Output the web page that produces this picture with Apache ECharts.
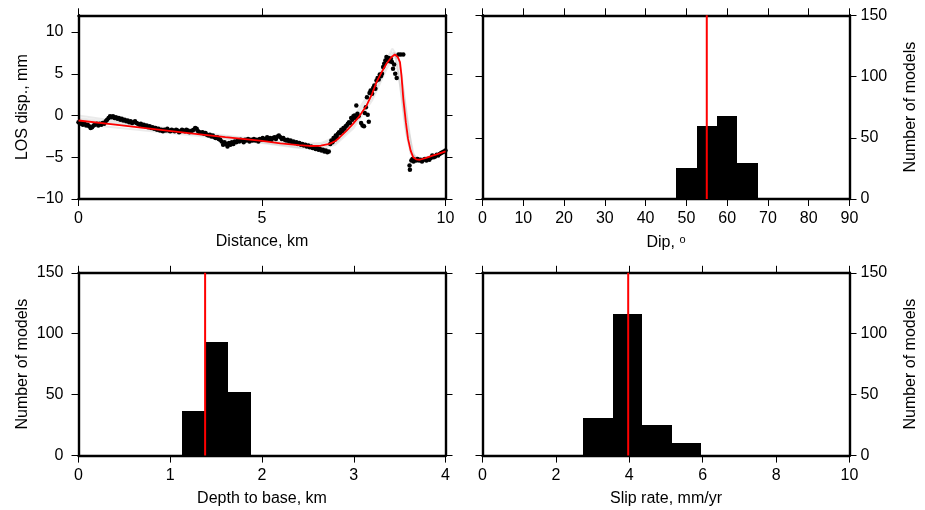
<!DOCTYPE html>
<html>
<head>
<meta charset="utf-8">
<script src="https://cdn.jsdelivr.net/npm/echarts@6/dist/echarts.min.js"></script>
<style>
  html, body { margin: 0; padding: 0; background: #fff; }
  #chart { width: 925px; height: 510px; }
</style>
</head>
<body>
<div id="chart"></div>
<script>
// Observed LOS displacement profile: [distance km, displacement mm]
const losObs = [
  [0.00,-0.8],[0.04,-1.0],[0.08,-0.9],[0.12,-1.1],[0.17,-1.0],[0.21,-1.2],[0.25,-1.1],[0.29,-1.3],[0.33,-1.5],[0.37,-1.4],
  [0.41,-1.2],[0.45,-1.1],[0.50,-1.0],[0.54,-1.2],[0.58,-1.0],[0.62,-1.1],[0.66,-0.9],[0.70,-1.0],[0.74,-0.7],[0.78,-0.5],
  [0.82,-0.3],[0.86,-0.1],[0.90,-0.2],[0.94,-0.1],[0.98,-0.3],[1.02,-0.2],[1.06,-0.4],[1.10,-0.3],[1.14,-0.5],[1.18,-0.4],
  [1.22,-0.6],[1.26,-0.5],[1.30,-0.7],[1.34,-0.6],[1.38,-0.8],[1.42,-0.7],[1.46,-0.9],[1.50,-0.8],[1.54,-0.7],[1.58,-0.9],
  [1.62,-1.0],[1.66,-1.1],[1.70,-1.0],[1.74,-1.2],[1.78,-1.1],[1.82,-1.3],[1.86,-1.2],[1.90,-1.4],[1.94,-1.3],[1.98,-1.5],
  [2.02,-1.4],[2.06,-1.6],[2.10,-1.5],[2.14,-1.7],[2.18,-1.6],[2.22,-1.8],[2.26,-1.7],[2.30,-1.9],[2.34,-1.7],[2.38,-1.8],
  [2.42,-1.6],[2.46,-1.8],[2.50,-1.9],[2.54,-1.7],[2.58,-1.8],[2.62,-1.9],[2.66,-1.7],[2.70,-1.8],[2.74,-2.0],[2.78,-1.9],
  [2.82,-1.7],[2.86,-1.8],[2.90,-1.9],[2.94,-1.7],[2.98,-1.8],[3.02,-2.0],[3.06,-1.9],[3.10,-1.8],[3.14,-1.7],[3.18,-1.5],
  [3.22,-1.6],[3.26,-1.9],[3.30,-2.0],[3.34,-2.1],[3.38,-2.0],[3.42,-2.2],[3.46,-2.1],[3.50,-2.3],[3.54,-2.4],[3.58,-2.3],
  [3.62,-2.5],[3.66,-2.4],[3.70,-2.6],[3.74,-2.7],[3.78,-2.6],[3.82,-2.8],[3.86,-2.9],[3.90,-3.1],[3.94,-3.5],[3.98,-3.2],
  [4.02,-3.4],[4.06,-3.7],[4.10,-3.3],[4.14,-3.5],[4.18,-3.2],[4.22,-3.4],[4.26,-3.1],[4.30,-3.2],[4.34,-3.0],[4.38,-3.1],
  [4.42,-2.9],[4.46,-3.0],[4.50,-3.2],[4.54,-2.9],[4.58,-3.0],[4.62,-2.8],[4.66,-3.1],[4.70,-2.9],[4.74,-3.0],[4.78,-2.8],
  [4.82,-3.0],[4.86,-2.9],[4.90,-3.1],[4.94,-2.8],[4.98,-2.9],[5.02,-2.7],[5.06,-2.9],[5.10,-2.8],[5.14,-2.6],[5.18,-2.8],
  [5.22,-2.7],[5.26,-2.9],[5.30,-2.7],[5.34,-2.6],[5.38,-2.8],[5.42,-2.5],[5.46,-2.4],[5.50,-2.6],[5.54,-2.8],[5.58,-2.7],
  [5.62,-2.9],[5.66,-3.0],[5.70,-2.9],[5.74,-3.1],[5.78,-3.0],[5.82,-3.2],[5.86,-3.1],[5.90,-3.3],[5.94,-3.2],[5.98,-3.4],
  [6.02,-3.3],[6.06,-3.5],[6.10,-3.4],[6.14,-3.6],[6.18,-3.5],[6.22,-3.7],[6.26,-3.6],[6.30,-3.8],[6.34,-3.7],[6.38,-3.9],
  [6.42,-3.8],[6.46,-4.0],[6.50,-3.9],[6.54,-4.1],[6.58,-4.0],[6.62,-4.2],[6.66,-4.1],[6.70,-4.3],[6.74,-4.2],[6.78,-4.4],
  [6.82,-4.3],[6.86,-3.4],[6.89,-3.0],[6.92,-3.2],[6.95,-2.7],[6.98,-2.9],[7.01,-2.4],[7.04,-2.6],[7.07,-2.2],[7.10,-2.0],
  [7.13,-2.1],[7.16,-1.7],[7.19,-1.9],[7.22,-1.5],[7.25,-1.6],[7.28,-1.3],[7.31,-1.2],[7.34,-1.0],[7.37,-0.8],[7.40,-0.9],
  [7.43,-0.3],[7.46,-0.5],[7.49,-0.1],[7.52,0.0],[7.55,-0.3],[7.57,1.2],[7.60,0.2],[7.63,-0.1],[7.70,-0.9],[7.74,-1.2],
  [7.78,-1.3],[7.80,0.3],[7.83,1.0],[7.86,2.2],[7.88,0.1],[7.91,-0.75],[7.93,2.7],[7.96,3.0],[8.00,2.6],[8.03,3.3],
  [8.06,3.6],[8.09,3.2],[8.12,4.2],[8.15,4.5],[8.18,4.3],[8.21,4.9],[8.24,4.7],[8.27,5.0],[8.30,5.8],[8.33,6.2],
  [8.36,6.6],[8.39,7.0],[8.42,6.7],[8.45,6.9],[8.48,6.5],[8.51,6.8],[8.54,6.4],[8.57,5.6],[8.60,6.1],[8.63,5.0],
  [8.67,4.5],[8.72,7.3],[8.78,7.3],[8.85,7.3],
  [9.02,-6.0],[9.03,-6.5],[9.07,-5.4],[9.10,-5.2],[9.13,-5.5],[9.16,-5.3],[9.20,-5.4],[9.24,-5.2],[9.28,-5.4],[9.32,-5.3],
  [9.36,-5.5],[9.40,-5.3],[9.44,-5.2],[9.48,-5.4],[9.52,-5.2],[9.56,-5.3],[9.60,-5.1],[9.64,-4.8],[9.68,-5.0],[9.72,-4.9],
  [9.76,-4.7],[9.80,-4.8],[9.84,-4.6],[9.88,-4.5],[9.92,-4.4],[9.96,-4.3],[10.00,-4.2]
];

// Best-fitting model profile
const bestModel = [
  [0,-0.6],[1,-1.1],[2,-1.6],[3,-2.1],[4,-2.6],[5,-3.05],[5.5,-3.35],[6.0,-3.55],[6.3,-3.65],[6.6,-3.62],
  [6.84,-3.4],[7.0,-3.05],[7.12,-2.6],[7.3,-1.85],[7.48,-1.0],[7.65,-0.1],[7.85,1.2],[8.0,2.6],[8.12,4.0],[8.25,5.1],
  [8.39,6.2],[8.53,7.0],[8.62,7.3],[8.7,7.0],[8.76,6.4],[8.8,4.8],[8.85,2.0],[8.92,-0.8],[8.98,-2.8],[9.05,-4.2],
  [9.12,-5.0],[9.2,-5.25],[9.3,-5.3],[9.45,-5.1],[9.65,-4.8],[9.8,-4.6],[10,-4.3]
];

// A few accepted models from the ensemble
const ensembleA = [[0,-0.3],[2,-1.4],[4,-2.5],[5,-3.0],[6,-3.5],[6.6,-3.5],[7.0,-2.8],[7.5,-0.6],[8.0,2.8],[8.4,6.3],[8.55,7.6],[8.65,7.0],[8.8,2.5],[8.95,-2.5],[9.1,-5.0],[9.3,-5.3],[9.65,-4.9],[10,-4.4]];
const ensembleB = [[0,-1.0],[2,-1.9],[4,-2.8],[5,-3.3],[6,-3.9],[6.6,-4.0],[7.0,-3.5],[7.5,-1.5],[8.0,1.8],[8.4,5.6],[8.6,7.0],[8.72,6.8],[8.85,3.0],[9.0,-2.0],[9.15,-5.0],[9.3,-5.5],[9.65,-5.0],[10,-4.5]];
const ensembleC = [[0,-0.5],[2,-1.6],[4,-2.7],[5,-3.2],[6,-3.8],[6.6,-3.8],[7.0,-3.3],[7.5,-1.2],[8.0,2.2],[8.4,6.0],[8.6,7.5],[8.7,7.2],[8.8,5.0],[8.95,0.0],[9.1,-4.5],[9.3,-5.4],[9.65,-4.9],[10,-4.2]];
const ensembleD = [[0,0.0],[2,-1.3],[4,-2.4],[5,-2.9],[6,-3.4],[6.6,-3.3],[7.0,-2.6],[7.5,-0.2],[8.0,3.3],[8.4,6.8],[8.55,8.0],[8.62,7.6],[8.75,4.0],[8.9,-1.5],[9.05,-4.6],[9.3,-5.2],[9.65,-4.8],[10,-4.3]];

// Posterior histograms: bin edges and counts
const dipEdges = [47.5, 52.5, 57.5, 62.5, 67.5];
const dipCounts = [25, 60, 68, 29];
const dipBest = 55;

const depthEdges = [1.13, 1.38, 1.63, 1.88];
const depthCounts = [37, 93, 52];
const depthBest = 1.38;

const slipEdges = [2.75, 3.55, 4.35, 5.15, 5.95];
const slipCounts = [31, 116, 25, 10];
const slipBest = 3.97;

const FONT = 'Liberation Sans, Arial, Helvetica, sans-serif';
const minus = v => String(v).replace('-', '\u2212');

const grids = [
  { left: 78.5, top: 15.3, width: 367, height: 183.7 },
  { left: 482.5, top: 15.3, width: 367, height: 183.7 },
  { left: 78.5, top: 272.8, width: 367, height: 182.8 },
  { left: 482.5, top: 272.8, width: 367, height: 182.8 }
];

const lineStyle = { color: '#000', width: 2.4 };
const tick = { show: true, inside: false, length: 7, lineStyle: { color: '#000', width: 1 } };
const nameStyle = { color: '#000', fontSize: 16, fontFamily: FONT };

function xPair(g, min, max, interval, name) {
  const base = { gridIndex: g, type: 'value', min, max, interval, splitLine: { show: false },
    axisLine: { show: true, onZero: false, lineStyle }, axisTick: tick };
  return [
    Object.assign({}, base, { position: 'bottom',
      axisLabel: { show: true, color: '#000', fontSize: 16, fontFamily: FONT, margin: 12, formatter: minus },
      name, nameLocation: 'middle', nameGap: 35, nameTextStyle: nameStyle }),
    Object.assign({}, base, { position: 'top', axisLabel: { show: false } })
  ];
}

function yPair(g, min, max, interval, name, side, ticks) {
  const base = { gridIndex: g, type: 'value', min, max, interval, splitLine: { show: false },
    axisLine: { show: true, onZero: false, lineStyle },
    axisTick: ticks ? Object.assign({}, tick, { customValues: ticks }) : tick };
  const labelled = {
    axisLabel: { show: true, color: '#000', fontSize: 16, fontFamily: FONT,
      margin: side === 'left' ? 15 : 11, formatter: minus, customValues: ticks },
    name, nameLocation: 'middle', nameRotate: 90,
    nameGap: side === 'left' ? 48 : 53, nameTextStyle: nameStyle
  };
  const plain = { axisLabel: { show: false } };
  const left = Object.assign({}, base, { position: 'left' }, side === 'left' ? labelled : plain);
  const right = Object.assign({}, base, { position: 'right' }, side === 'right' ? labelled : plain);
  return [left, right];
}

const losTicks = [-10, -5, 0, 5, 10];
const xAxes = [].concat(
  xPair(0, 0, 10, 5, 'Distance, km'),
  xPair(1, 0, 90, 10, 'Dip, {s|o}'),
  xPair(2, 0, 4, 1, 'Depth to base, km'),
  xPair(3, 0, 10, 2, 'Slip rate, mm/yr')
);
xAxes[2].nameTextStyle = Object.assign({}, nameStyle, {
  rich: { s: { fontSize: 11, fontFamily: FONT, color: '#000', padding: [0, 0, 7, 0] } }
});
const yAxes = [].concat(
  yPair(0, -10, 12, 5, 'LOS disp., mm', 'left', losTicks),
  yPair(1, 0, 150, 50, 'Number of models', 'right'),
  yPair(2, 0, 150, 50, 'Number of models', 'left'),
  yPair(3, 0, 150, 50, 'Number of models', 'right')
);

// Bins are snapped to whole pixels so adjacent bars join without seams
function histogram(g, edges, counts) {
  return {
    type: 'custom', xAxisIndex: 2 * g, yAxisIndex: 2 * g, silent: true,
    data: counts.map((c, i) => [edges[i], edges[i + 1], c]),
    encode: { x: [0, 1], y: 2 },
    renderItem: (params, api) => {
      const p0 = api.coord([api.value(0), api.value(2)]);
      const p1 = api.coord([api.value(1), 0]);
      const x0 = Math.round(p0[0]), x1 = Math.round(p1[0]);
      const y0 = Math.round(p0[1]), y1 = Math.round(p1[1]);
      return { type: 'rect', shape: { x: x0, y: y0, width: x1 - x0, height: y1 - y0 },
        style: { fill: '#000' } };
    }
  };
}

function bestLine(g, v) {
  return { type: 'line', xAxisIndex: 2 * g, yAxisIndex: 2 * g, silent: true, symbol: 'none',
    data: [[v, 0], [v, 150]], lineStyle: { color: '#f00', width: 2 }, z: 5 };
}

function ensembleLine(d) {
  return { type: 'line', xAxisIndex: 0, yAxisIndex: 0, data: d, symbol: 'none', silent: true,
    lineStyle: { color: 'rgba(0,0,0,0.08)', width: 2 }, z: 1 };
}

const option = {
  animation: false,
  backgroundColor: '#fff',
  grid: grids,
  xAxis: xAxes,
  yAxis: yAxes,
  series: [
    ensembleLine(ensembleA), ensembleLine(ensembleB), ensembleLine(ensembleC), ensembleLine(ensembleD),
    { type: 'scatter', xAxisIndex: 0, yAxisIndex: 0, data: losObs, symbol: 'circle', symbolSize: 4.5,
      itemStyle: { color: '#000', opacity: 1 }, silent: true, z: 2 },
    { type: 'line', xAxisIndex: 0, yAxisIndex: 0, data: bestModel, symbol: 'none', silent: true,
      lineStyle: { color: '#f00', width: 1.8 }, z: 3 },
    histogram(1, dipEdges, dipCounts), bestLine(1, dipBest),
    histogram(2, depthEdges, depthCounts), bestLine(2, depthBest),
    histogram(3, slipEdges, slipCounts), bestLine(3, slipBest)
  ]
};

echarts.init(document.getElementById('chart'), null, { renderer: 'canvas' }).setOption(option);
</script>
</body>
</html>
